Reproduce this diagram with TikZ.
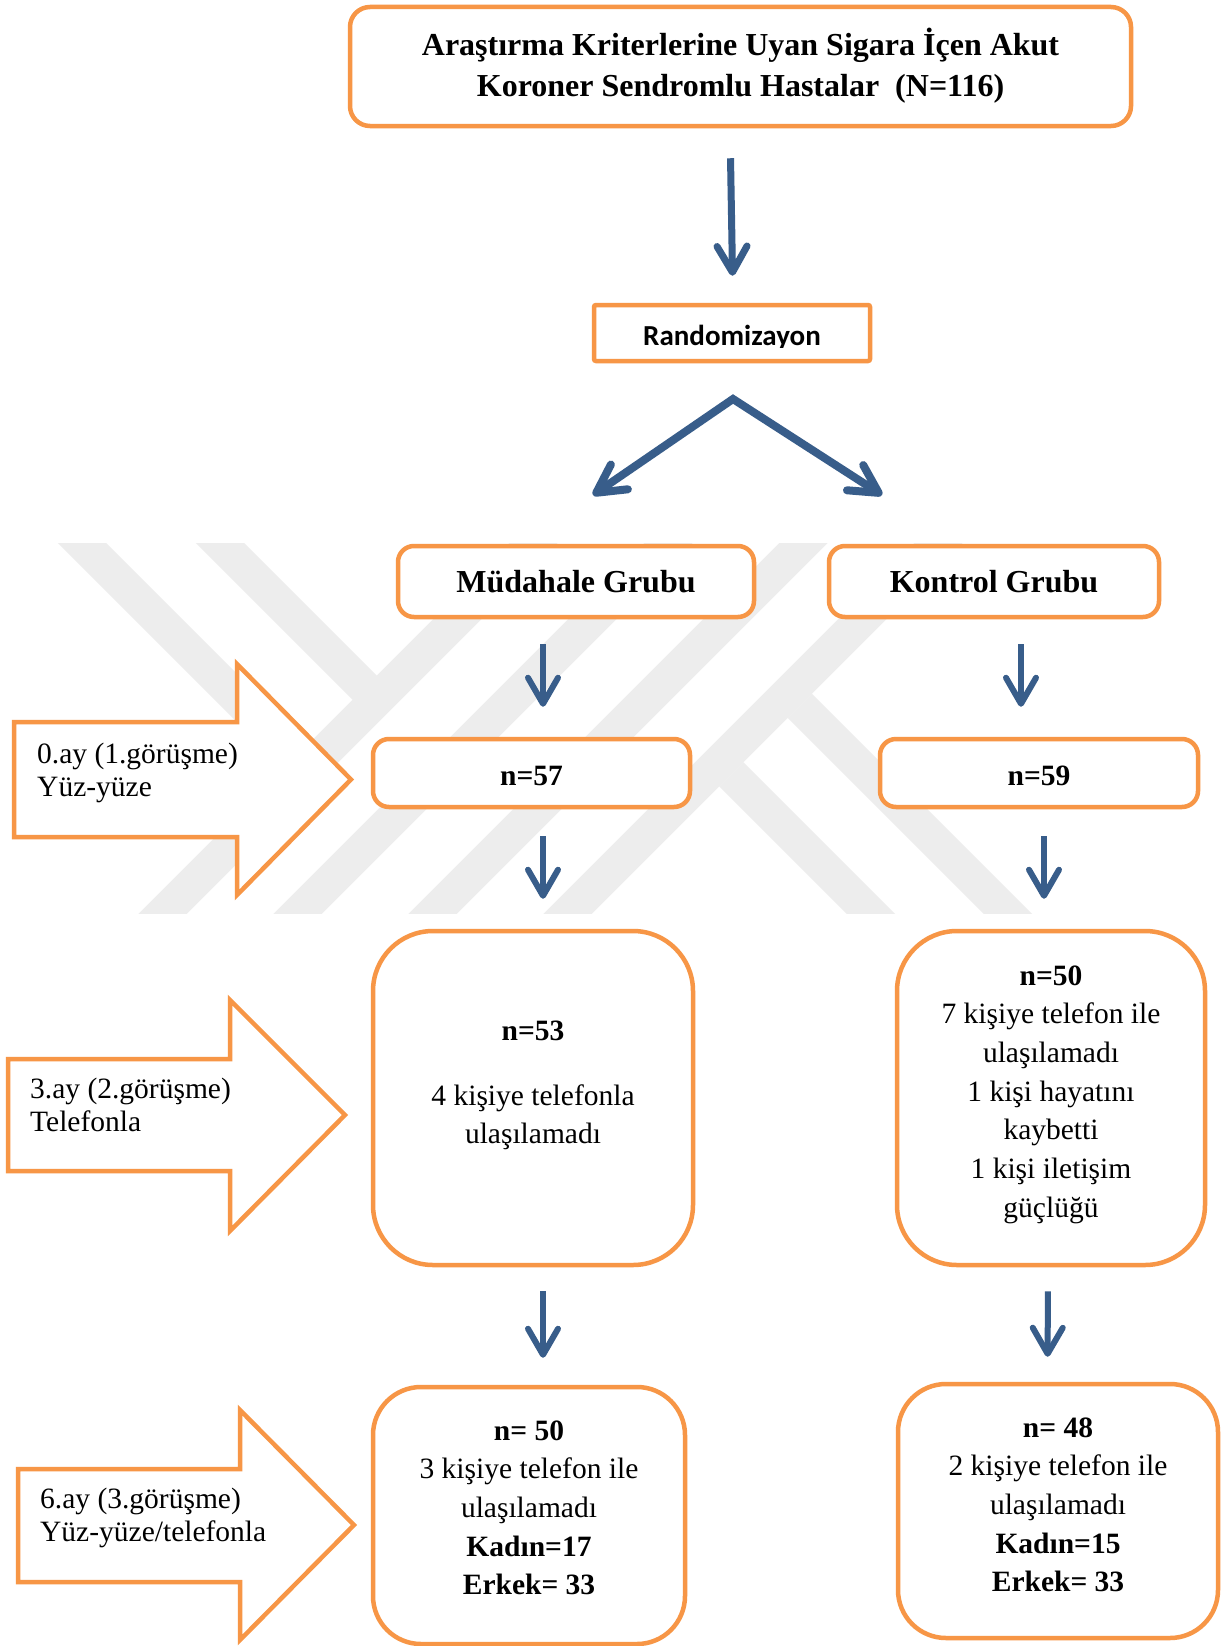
\documentclass[tikz,border=0pt]{standalone}
\usepackage{fontspec}
\setmainfont{Liberation Serif}
\newfontfamily\calibrifont{Carlito}
\usetikzlibrary{arrows.meta,calc}
\definecolor{orng}{HTML}{F79646}
\definecolor{blu}{HTML}{385D8A}
\definecolor{wmgray}{HTML}{EDEDED}
\newcommand\mytop[1]{\rule{0pt}{#1}}
\newcommand\mybot[1]{\rule[-#1]{0pt}{#1}}
\begin{document}
\begin{tikzpicture}[x=1pt, y=-1pt,
  obox/.style={draw=orng, line width=4.5pt, fill=white, inner sep=0pt, align=center, rounded corners=16pt},
  blockarrow/.style={draw=orng, line width=4.5pt, fill=white, line join=miter},
  lbl/.style={font=\fontsize{29.5}{33}\selectfont, align=left, inner sep=0pt, anchor=west},
  wm/.style={draw=wmgray, line width=34pt},
  darr/.style={draw=blu, line width=6pt, -{Straight Barb[length=26pt, width=30pt, round]}},
  tarr/.style={draw=blu, line width=7pt, -{Straight Barb[length=26pt, width=30pt, round]}},
  fT/.style={font=\fontsize{32}{41}\selectfont\bfseries},
  fB/.style={font=\fontsize{32}{40}\selectfont\bfseries},
  fN/.style={font=\fontsize{29.5}{38.7}\selectfont}
]
\useasboundingbox (0,0) rectangle (1224,1646);
\fill[white] (0,0) rectangle (1224,1646);

% watermark
\begin{scope}
\clip (0,543) rectangle (1224,913);
\draw[wm] (123.5,953) -- (573.5,503);
\draw[wm] (258.5,953) -- (708.5,503);
\draw[wm] (393.5,953) -- (843.5,503);
\draw[wm] (528.5,953) -- (978.5,503);
\draw[wm] (42,503) -- (295.75,756.75);
\draw[wm] (180,503) -- (364.75,687.75);
\draw[wm] (799.75,705.75) -- (1047,953);
\draw[wm] (731.25,774.25) -- (910,953);
\end{scope}

% block arrows on the left
\draw[blockarrow] (14,722) -- (237,722) -- (237,664) -- (351,779.5) -- (237,895) -- (237,837) -- (14,837) -- cycle;
\draw[blockarrow] (8,1059) -- (230,1059) -- (230,1000) -- (345,1115) -- (230,1231) -- (230,1171) -- (8,1171) -- cycle;
\draw[blockarrow] (18,1469) -- (240,1469) -- (240,1410) -- (354,1525) -- (240,1640) -- (240,1582) -- (18,1582) -- cycle;
\node[lbl] (t0) at (37,779.5) {\mytop{30pt}0.ay (1.görüşme)\\Yüz-yüze\mybot{30pt}};
\node[lbl] (t3) at (30,1115) {\mytop{30pt}3.ay (2.görüşme)\\Telefonla\mybot{30pt}};
\node[lbl] (t6) at (40,1525) {\mytop{30pt}6.ay (3.görüşme)\\Yüz-yüze/telefonla\mybot{30pt}};

% boxes
\node[obox, fT, rounded corners=20pt, minimum width=781pt, minimum height=119pt] (top) at (740.5,66.5)
  {\mytop{30pt}Araştırma Kriterlerine Uyan Sigara İçen Akut\\Koroner Sendromlu Hastalar\hspace{8pt} (N=116)\mybot{12pt}};

\node[obox, rounded corners=2pt, minimum width=276pt, minimum height=56pt] (rand) at (732,333) {};
\begin{scope}
\clip (590,300) rectangle (875,347.5);
\node[font=\calibrifont\fontsize{29}{34}\selectfont\bfseries, anchor=base, inner sep=0pt] (randtext) at (732,345) {Randomizayon};
\end{scope}

\node[obox, fB, minimum width=356pt, minimum height=71pt] (mud) at (576,581.5) {\mytop{30pt}Müdahale Grubu\mybot{9pt}};
\node[obox, fB, minimum width=330pt, minimum height=71pt] (kon) at (994,581.5) {\mytop{30pt}Kontrol Grubu\mybot{9pt}};

\node[obox, fN, minimum width=317pt, minimum height=68pt] (n57) at (531.5,773) {\mytop{30pt}\textbf{n=57}\mybot{6pt}};
\node[obox, fN, minimum width=318pt, minimum height=68pt] (n59) at (1039,773) {\mytop{30pt}\textbf{n=59}\mybot{6pt}};

\node[obox, fN, rounded corners=60pt, minimum width=320pt, minimum height=334pt] (n53) at (533,1098)
  {\mytop{30pt}\textbf{n=53}\\[26.3pt]4 kişiye telefonla\\ulaşılamadı\mybot{42.3pt}};
\node[obox, fN, rounded corners=60pt, minimum width=308pt, minimum height=334pt] (n50) at (1051,1098)
  {\mytop{30pt}\textbf{n=50}\\7 kişiye telefon ile\\ulaşılamadı\\1 kişi hayatını\\kaybetti\\1 kişi iletişim\\güçlüğü\mybot{23.8pt}};

\node[obox, fN, rounded corners=48pt, minimum width=312pt, minimum height=257pt] (finl) at (529,1515.5)
  {\mytop{30pt}\textbf{n= 50}\\3 kişiye telefon ile\\ulaşılamadı\\\textbf{Kadın=17}\\\textbf{Erkek= 33}\mybot{26.2pt}};
\node[obox, fN, rounded corners=48pt, minimum width=320pt, minimum height=254pt] (finr) at (1058,1511)
  {\mytop{30pt}\textbf{n= 48}\\2 kişiye telefon ile\\ulaşılamadı\\\textbf{Kadın=15}\\\textbf{Erkek= 33}\mybot{23.2pt}};

% arrows
\draw[tarr, shorten <=30pt, shorten >=27pt] ($(rand.north |- top.south)+(-2,0)$) -- ($(rand.north)+(1,0)$);

\coordinate (split) at (733,399);
\coordinate (ltip) at (593,495);
\coordinate (rtip) at (882,495);
\draw[draw=blu, line width=8pt, line join=miter,
  {Straight Barb[length=28pt, width=30pt, round]}-{Straight Barb[length=28pt, width=30pt, round]}]
  (ltip) -- (split) -- (rtip);

\draw[darr, shorten <=25pt, shorten >=30pt] ($(mud.south)+(-33,0)$) -- ($(n57.north)+(11.5,0)$);
\draw[darr, shorten <=25pt, shorten >=30pt] ($(kon.south)+(27,0)$) -- ($(n59.north)+(-18,0)$);
\draw[darr, shorten <=27pt, shorten >=30pt] ($(n57.south)+(11.5,0)$) -- ($(n53.north)+(10,0)$);
\draw[darr, shorten <=27pt, shorten >=30pt] ($(n59.south)+(5,0)$) -- ($(n50.north)+(-7,0)$);
\draw[darr, shorten <=24pt, shorten >=27pt] ($(n53.south)+(10,0)$) -- ($(finl.north)+(14,0)$);
\draw[darr, shorten <=24pt, shorten >=25pt] ($(n50.south)+(-3,0)$) -- ($(finr.north)+(-10.5,0)$);
\end{tikzpicture}
\end{document}
